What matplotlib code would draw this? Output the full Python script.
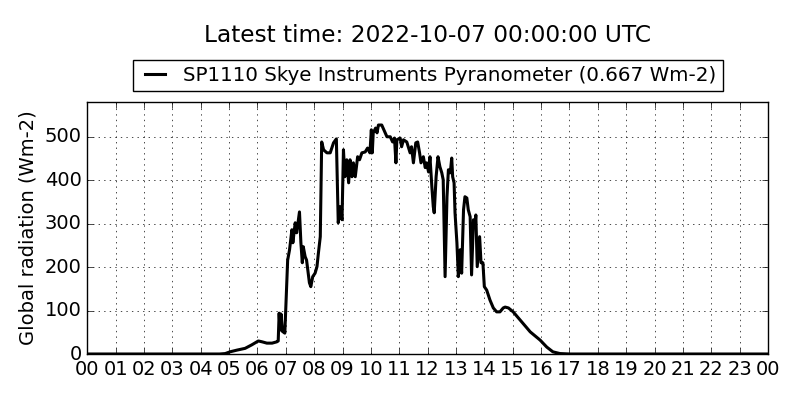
import matplotlib
matplotlib.use('Agg')
import matplotlib.pyplot as plt
import matplotlib.dates as mdates
import pandas as pd

plt.style.use('classic')

# Readings (time of day, Wm-2)
times = ['00:00', '04:40', '04:52', '05:02', '05:17', '05:34', '05:48', '06:02', '06:10',
         '06:20', '06:31', '06:41', '06:44', '06:46', '06:48', '06:50', '06:53', '06:58',
         '07:04', '07:08', '07:13', '07:15', '07:20', '07:23', '07:29', '07:32', '07:35',
         '07:37', '07:41', '07:44', '07:50', '07:53', '07:57', '08:02', '08:06', '08:09',
         '08:13', '08:16', '08:20', '08:27', '08:34', '08:41', '08:47', '08:48', '08:51',
         '08:55', '08:59', '09:02', '09:05', '09:09', '09:13', '09:16', '09:20', '09:23',
         '09:27', '09:32', '09:36', '09:41', '09:48', '09:53', '09:58', '10:01', '10:03',
         '10:05', '10:10', '10:13', '10:16', '10:23', '10:29', '10:34', '10:41', '10:46',
         '10:50', '10:53', '10:55', '11:02', '11:05', '11:09', '11:16', '11:23', '11:26',
         '11:30', '11:35', '11:39', '11:43', '11:46', '11:51', '11:55', '11:58', '12:02',
         '12:05', '12:09', '12:12', '12:14', '12:18', '12:22', '12:26', '12:30', '12:33',
         '12:37', '12:41', '12:44', '12:48', '12:51', '12:53', '12:56', '12:58', '13:02',
         '13:05', '13:09', '13:12', '13:16', '13:19', '13:23', '13:26', '13:30', '13:33',
         '13:37', '13:40', '13:42', '13:45', '13:50', '13:53', '13:57', '14:00', '14:05',
         '14:12', '14:19', '14:26', '14:33', '14:40', '14:44', '14:51', '15:01', '15:16',
         '15:30', '15:37', '15:58', '16:12', '16:25', '16:40', '17:01', '24:00']
radiation = [0, 0, 1, 5, 9, 13, 21, 30, 28,
             25, 25, 28, 30, 94, 55, 92, 52, 48,
             216, 240, 286, 256, 302, 279, 327, 256, 210,
             247, 224, 216, 164, 155, 178, 186, 201, 232,
             270, 488, 470, 463, 463, 486, 495, 447, 302,
             339, 309, 470, 408, 447, 394, 447, 408, 440,
             408, 454, 447, 463, 465, 474, 463, 516, 463,
             509, 520, 509, 527, 527, 512, 500, 500, 488,
             497, 440, 493, 497, 477, 493, 488, 463, 477,
             440, 486, 488, 463, 440, 454, 429, 440, 419,
             454, 385, 339, 325, 408, 454, 431, 417, 401,
             178, 362, 424, 417, 451, 408, 394, 325, 256,
             178, 240, 186, 332, 362, 359, 332, 316, 182,
             309, 293, 320, 201, 270, 210, 210, 155, 147,
             124, 106, 97, 97, 106, 108, 106, 97, 78,
             60, 51, 32, 16, 5, 1, 0, 0]

day = pd.Timestamp('2022-10-06')
t = [day + pd.Timedelta(hours=int(s[:2]), minutes=int(s[3:])) for s in times]

fig = plt.figure(figsize=(8, 4), dpi=100, facecolor='white')
ax = fig.add_axes([0.109, 0.115, 0.851, 0.63])

ax.plot(t, radiation, color='black', linewidth=2.2,
        label='SP1110 Skye Instruments Pyranometer (0.667 Wm-2)')

ax.set_xlim(day, day + pd.Timedelta(hours=24))
ax.set_ylim(0, 580)
ax.xaxis.set_major_locator(mdates.HourLocator(interval=1))
ax.xaxis.set_major_formatter(mdates.DateFormatter('%H'))
ax.set_yticks([0, 100, 200, 300, 400, 500])
ax.tick_params(labelsize=14)
ax.set_ylabel('Global radiation (Wm-2)', fontsize=14)
ax.grid(True)

ax.legend(loc='lower center', bbox_to_anchor=(0.5, 1.045), fontsize=14.3,
          fancybox=False, handlelength=1.65, handletextpad=0.6,
          borderpad=0.3, borderaxespad=0)
ax.text(0.5, 1.0 + (102 - 35) / 252, 'Latest time: 2022-10-07 00:00:00 UTC',
        transform=ax.transAxes, ha='center', va='center', fontsize=16.75)

fig.savefig('out.png', dpi=100, facecolor='white')
plt.close(fig)
